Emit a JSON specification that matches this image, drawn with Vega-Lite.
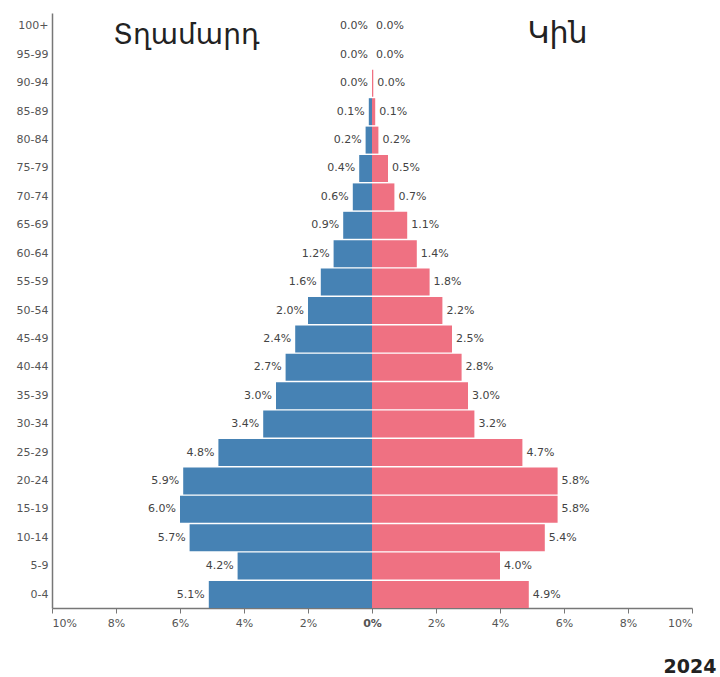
{
  "$schema": "https://vega.github.io/schema/vega-lite/v6.json",
  "width": 640,
  "height": 595,
  "autosize": "none",
  "padding": {"left": 52, "top": 13, "right": 28, "bottom": 69},
  "background": "white",
  "title": {"text": "2024", "orient": "bottom", "anchor": "end", "fontSize": 19, "fontWeight": "bold", "font": "DejaVu Sans", "color": "#222", "dx": 24, "offset": 30},
  "config": {"view": {"stroke": null}},
  "data": {"values": [
    {"age": "100+", "sex": "M", "value": 0.0}, {"age": "100+", "sex": "F", "value": 0.0},
    {"age": "95-99", "sex": "M", "value": 0.0}, {"age": "95-99", "sex": "F", "value": 0.0},
    {"age": "90-94", "sex": "M", "value": 0.0}, {"age": "90-94", "sex": "F", "value": 0.04},
    {"age": "85-89", "sex": "M", "value": -0.1}, {"age": "85-89", "sex": "F", "value": 0.1},
    {"age": "80-84", "sex": "M", "value": -0.2}, {"age": "80-84", "sex": "F", "value": 0.2},
    {"age": "75-79", "sex": "M", "value": -0.4}, {"age": "75-79", "sex": "F", "value": 0.5},
    {"age": "70-74", "sex": "M", "value": -0.6}, {"age": "70-74", "sex": "F", "value": 0.7},
    {"age": "65-69", "sex": "M", "value": -0.9}, {"age": "65-69", "sex": "F", "value": 1.1},
    {"age": "60-64", "sex": "M", "value": -1.2}, {"age": "60-64", "sex": "F", "value": 1.4},
    {"age": "55-59", "sex": "M", "value": -1.6}, {"age": "55-59", "sex": "F", "value": 1.8},
    {"age": "50-54", "sex": "M", "value": -2.0}, {"age": "50-54", "sex": "F", "value": 2.2},
    {"age": "45-49", "sex": "M", "value": -2.4}, {"age": "45-49", "sex": "F", "value": 2.5},
    {"age": "40-44", "sex": "M", "value": -2.7}, {"age": "40-44", "sex": "F", "value": 2.8},
    {"age": "35-39", "sex": "M", "value": -3.0}, {"age": "35-39", "sex": "F", "value": 3.0},
    {"age": "30-34", "sex": "M", "value": -3.4}, {"age": "30-34", "sex": "F", "value": 3.2},
    {"age": "25-29", "sex": "M", "value": -4.8}, {"age": "25-29", "sex": "F", "value": 4.7},
    {"age": "20-24", "sex": "M", "value": -5.9}, {"age": "20-24", "sex": "F", "value": 5.8},
    {"age": "15-19", "sex": "M", "value": -6.0}, {"age": "15-19", "sex": "F", "value": 5.8},
    {"age": "10-14", "sex": "M", "value": -5.7}, {"age": "10-14", "sex": "F", "value": 5.4},
    {"age": "5-9", "sex": "M", "value": -4.2}, {"age": "5-9", "sex": "F", "value": 4.0},
    {"age": "0-4", "sex": "M", "value": -5.1}, {"age": "0-4", "sex": "F", "value": 4.9}
  ]},
  "transform": [{"calculate": "format(abs(datum.value), '.1f') + '%'", "as": "label"}],
  "layer": [
    {
      "mark": {"type": "bar"},
      "encoding": {
        "y": {"field": "age", "type": "nominal",
          "scale": {"domain": ["100+", "95-99", "90-94", "85-89", "80-84", "75-79", "70-74", "65-69", "60-64", "55-59", "50-54", "45-49", "40-44", "35-39", "30-34", "25-29", "20-24", "15-19", "10-14", "5-9", "0-4"], "paddingInner": 0.05, "paddingOuter": 0},
          "axis": {"title": null, "ticks": false, "domainColor": "#777", "domainWidth": 1.5, "labelFont": "DejaVu Sans", "labelFontSize": 11, "labelColor": "#555", "labelPadding": 4}},
        "x": {"field": "value", "type": "quantitative",
          "scale": {"domain": [-10, 10], "nice": false},
          "axis": {"title": null, "grid": false, "values": [-10, -8, -6, -4, -2, 0, 2, 4, 6, 8, 10], "labelExpr": "abs(datum.value) + '%'", "tickSize": 5, "tickColor": "#777", "domainColor": "#777", "domainWidth": 1.5, "labelFont": "DejaVu Sans", "labelFontSize": 11, "labelColor": "#555", "labelPadding": 4, "labelFontWeight": {"condition": {"test": "datum.value == 0", "value": "bold"}, "value": "normal"}}},
        "color": {"field": "sex", "type": "nominal", "scale": {"domain": ["M", "F"], "range": ["#4682b4", "#ef7182"]}, "legend": null}
      }
    },
    {
      "transform": [{"filter": "datum.sex == 'M'"}],
      "mark": {"type": "text", "align": "right", "dx": -4, "font": "DejaVu Sans", "fontSize": 11, "color": "#444"},
      "encoding": {
        "y": {"field": "age", "type": "nominal"},
        "x": {"field": "value", "type": "quantitative"},
        "text": {"field": "label"}
      }
    },
    {
      "transform": [{"filter": "datum.sex == 'F'"}],
      "mark": {"type": "text", "align": "left", "dx": 4, "font": "DejaVu Sans", "fontSize": 11, "color": "#444"},
      "encoding": {
        "y": {"field": "age", "type": "nominal"},
        "x": {"field": "value", "type": "quantitative"},
        "text": {"field": "label"}
      }
    },
    {
      "data": {"values": [{"t": "Տղամարդ"}]},
      "mark": {"type": "text", "align": "center", "baseline": "alphabetic", "dy": 18, "font": "DejaVu Sans", "fontSize": 28, "color": "#222"},
      "encoding": {
        "x": {"datum": -5.8},
        "y": {"datum": "100+"},
        "text": {"field": "t"}
      }
    },
    {
      "data": {"values": [{"t": "Կին"}]},
      "mark": {"type": "text", "align": "center", "baseline": "alphabetic", "dy": 17, "font": "DejaVu Sans", "fontSize": 30, "color": "#222"},
      "encoding": {
        "x": {"datum": 5.8},
        "y": {"datum": "100+"},
        "text": {"field": "t"}
      }
    }
  ]
}
